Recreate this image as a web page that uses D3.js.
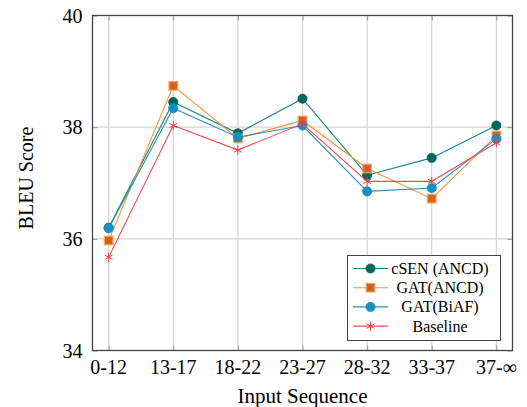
<!DOCTYPE html>
<html>
<head>
<meta charset="utf-8">
<script src="https://cdn.jsdelivr.net/npm/d3@7/dist/d3.min.js"></script>
</head>
<body style="margin:0">
<svg id="chart" width="527" height="407"></svg>
<script>
const categories = ["0-12","13-17","18-22","23-27","28-32","33-37","37-\u221E"];
const seriesNames = ["cSEN (ANCD)","GAT(ANCD)","GAT(BiAF)","Baseline"];
const csenANCD = [36.20, 38.45, 37.89, 38.51, 37.14, 37.45, 38.03];
const gatANCD  = [35.97, 38.74, 37.80, 38.12, 37.26, 36.72, 37.85];
const gatBiAF  = [36.19, 38.34, 37.82, 38.03, 36.85, 36.91, 37.79];
const baseline = [35.67, 38.03, 37.59, 38.06, 37.03, 37.03, 37.72];
const yTicks = [34, 36, 38, 40];

const series = [
  {name: seriesNames[0], values: csenANCD, line: "#17837f", fill: "#006660", edge: "#006660", marker: "circle"},
  {name: seriesNames[1], values: gatANCD,  line: "#f7923a", fill: "#d2631f", edge: "#f8a35c", marker: "square"},
  {name: seriesNames[2], values: gatBiAF,  line: "#2f8db3", fill: "#1690c0", edge: "#1690c0", marker: "circle"},
  {name: seriesNames[3], values: baseline, line: "#ee4f55", fill: "#ea3f45", edge: "#ea3f45", marker: "star"}
];

const svg = d3.select("#chart");
const L = 92.5, R = 512.5, T = 15.5, B = 350.5;
const x = d3.scaleLinear().domain([-0.25, categories.length - 0.75]).range([L, R]);
const y = d3.scaleLinear().domain([34, 40]).range([B, T]);

// text helper: font set inline, anchored manually from measured width
function txt(parent, str, size, cx, by, anchor){
  const t = parent.append("text").style("font-family", "'Liberation Serif'").style("font-size", size + "px").text(str);
  const w = t.node().getComputedTextLength();
  const x0 = anchor === "middle" ? cx - w/2 : anchor === "end" ? cx - w : cx;
  t.attr("x", x0).attr("y", by);
  return t;
}

// grid
const g = svg.append("g");
g.selectAll("line.vg").data(categories).enter().append("line")
  .attr("x1", (d,i)=>x(i)).attr("x2", (d,i)=>x(i)).attr("y1", T).attr("y2", B)
  .attr("stroke", "#d4d4d4").attr("stroke-width", 1.2);
g.selectAll("line.hg").data(yTicks.slice(1,-1)).enter().append("line")
  .attr("x1", L).attr("x2", R).attr("y1", d=>y(d)).attr("y2", d=>y(d))
  .attr("stroke", "#d4d4d4").attr("stroke-width", 1.2);

// axes: inward ticks only
const xAxisB = d3.axisBottom(x).tickValues(d3.range(categories.length)).tickFormat("").tickSizeInner(-5).tickSizeOuter(0);
const xAxisT = d3.axisTop(x).tickValues(d3.range(categories.length)).tickFormat("").tickSizeInner(-5).tickSizeOuter(0);
const yAxisL = d3.axisLeft(y).tickValues(yTicks).tickFormat("").tickSizeInner(-5).tickSizeOuter(0);
const yAxisR = d3.axisRight(y).tickValues(yTicks).tickFormat("").tickSizeInner(-5).tickSizeOuter(0);
function styleAxis(sel){
  sel.attr("font-family", null).attr("font-size", null);
  sel.select(".domain").remove();
  sel.selectAll(".tick text").remove();
  sel.selectAll(".tick line").attr("stroke", "#999").attr("stroke-width", 1);
}
svg.append("g").attr("transform", `translate(0,${B})`).call(xAxisB).call(styleAxis);
svg.append("g").attr("transform", `translate(0,${T})`).call(xAxisT).call(styleAxis);
svg.append("g").attr("transform", `translate(${L},0)`).call(yAxisL).call(styleAxis);
svg.append("g").attr("transform", `translate(${R},0)`).call(yAxisR).call(styleAxis);

// tick labels
categories.forEach((c,i)=> txt(svg, c, 20, x(i), B + 23, "middle"));
yTicks.forEach(v=> txt(svg, d3.format("d")(v), 20, L - 10, y(v) + 7, "end"));

// frame
svg.append("rect").attr("x", L).attr("y", T).attr("width", R-L).attr("height", B-T)
  .attr("fill", "none").attr("stroke", "#444").attr("stroke-width", 1.3);

// markers
function drawMarker(sel, s, cx, cy){
  if (s.marker === "circle") {
    sel.append("circle").attr("cx", cx).attr("cy", cy).attr("r", 4.6)
      .attr("fill", s.fill).attr("stroke", s.edge).attr("stroke-width", 0.8);
  } else if (s.marker === "square") {
    sel.append("rect").attr("x", cx-4.3).attr("y", cy-4.3).attr("width", 8.6).attr("height", 8.6)
      .attr("fill", s.fill).attr("stroke", s.edge).attr("stroke-width", 1.2);
  } else {
    const r = 4.5;
    for (let k = 0; k < 3; k++) {
      const a = Math.PI/2 + k*Math.PI/3;
      sel.append("line").attr("x1", cx + r*Math.cos(a)).attr("y1", cy - r*Math.sin(a))
        .attr("x2", cx - r*Math.cos(a)).attr("y2", cy + r*Math.sin(a))
        .attr("stroke", s.fill).attr("stroke-width", 1);
    }
  }
}

const line = d3.line().x((d,i)=>x(i)).y(d=>y(d));
series.forEach(s=>{
  const sg = svg.append("g");
  sg.append("path").datum(s.values).attr("d", line).attr("fill", "none")
    .attr("stroke", s.line).attr("stroke-width", 1.1);
  s.values.forEach((v,i)=>drawMarker(sg, s, x(i), y(v)));
});

// legend
const lg = svg.append("g");
lg.append("rect").attr("x", 347.5).attr("y", 255.5).attr("width", 153).attr("height", 85)
  .attr("fill", "#fff").attr("stroke", "#444").attr("stroke-width", 1);
series.forEach((s,i)=>{
  const cy = 268.5 + i*19.2;
  lg.append("line").attr("x1", 353).attr("x2", 388).attr("y1", cy).attr("y2", cy)
    .attr("stroke", s.line).attr("stroke-width", 1.1);
  drawMarker(lg, s, 370.5, cy);
  txt(lg, s.name, 16, 440, cy + 5.5, "middle");
});

// axis titles
txt(svg, "Input Sequence", 21, x(3), 403, "middle");
const yl = svg.append("g").attr("transform", "translate(33,178) rotate(-90)");
txt(yl, "BLEU Score", 20, 0, 0, "middle");
</script>
</body>
</html>
